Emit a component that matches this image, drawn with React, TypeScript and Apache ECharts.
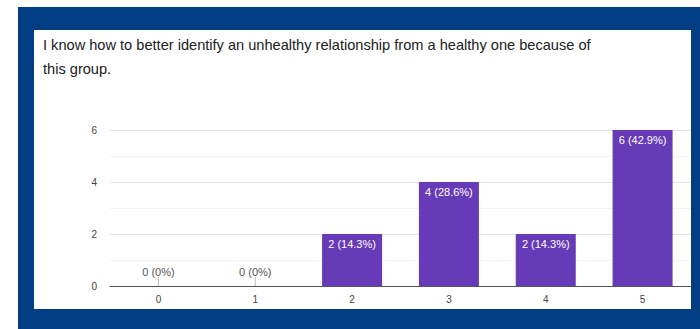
import React, { useEffect, useRef } from "react";
import * as echarts from "echarts";

// Survey question and answer tallies
const questionText =
  "I know how to better identify an unhealthy relationship from a healthy one because of\nthis group.";
const ratingCategories = ["0", "1", "2", "3", "4", "5"];
const responseCounts = [0, 0, 2, 4, 2, 6];
const yTicks = { min: 0, max: 6, interval: 2 };

const totalResponses = responseCounts.reduce((a, b) => a + b, 0);

const FONT = "'Liberation Sans', Arial, Helvetica, sans-serif";

function pctLabel(v: number): string {
  if (v === 0) return "0 (0%)";
  const p = Math.round((v / totalResponses) * 1000) / 10;
  return `${v} (${p}%)`;
}

export default function App() {
  const ref = useRef<HTMLDivElement>(null);

  useEffect(() => {
    if (!ref.current) return;
    const chart = echarts.init(ref.current, null, { renderer: "svg" });

    const barData = responseCounts.map((v) => ({
      value: v,
      label:
        v === 0
          ? { position: "top", distance: 9, color: "#555" }
          : { position: "insideTop", distance: 4, color: "#ffffff" },
    }));

    // Short stub marking categories with no responses
    const zeroMarks = responseCounts.map((v) => (v === 0 ? 0 : null));

    chart.setOption({
      animation: false,
      backgroundColor: "#ffffff",
      textStyle: { fontFamily: FONT },
      graphic: [
        {
          type: "rect",
          shape: { x: 18, y: 7, width: 682, height: 322 },
          style: { fill: "#023d83" },
          z: -10,
          silent: true,
        },
        {
          type: "rect",
          shape: { x: 34, y: 30, width: 657, height: 279 },
          style: { fill: "#ffffff" },
          z: -9,
          silent: true,
        },
      ],
      title: {
        text: questionText,
        left: 43,
        top: 33,
        padding: 0,
        textStyle: {
          fontFamily: FONT,
          fontSize: 14.6,
          fontWeight: "normal",
          color: "#202124",
          lineHeight: 24,
        },
      },
      grid: { left: 110, right: 9, top: 130, bottom: 43 },
      xAxis: {
        type: "category",
        data: ratingCategories,
        axisLine: { lineStyle: { color: "#555", width: 1 } },
        axisTick: { show: false },
        axisLabel: { color: "#444", fontSize: 10, margin: 8, fontFamily: FONT },
      },
      yAxis: {
        type: "value",
        min: yTicks.min,
        max: yTicks.max,
        interval: yTicks.interval,
        axisLine: { show: false },
        axisTick: { show: false },
        axisLabel: { color: "#444", fontSize: 10, margin: 13, fontFamily: FONT },
        splitLine: { lineStyle: { color: "#e6e6e6", width: 1 } },
        minorTick: { show: false, splitNumber: 2 },
        minorSplitLine: { show: true, lineStyle: { color: "#f3f3f3", width: 1 } },
      },
      series: [
        {
          type: "bar",
          data: barData,
          barWidth: 60,
          itemStyle: { color: "#673ab7" },
          label: {
            show: true,
            fontSize: 11,
            fontFamily: FONT,
            formatter: (p: any) => pctLabel(p.value),
          },
        },
        {
          type: "scatter",
          data: zeroMarks,
          symbol: "rect",
          symbolSize: [1, 9],
          symbolOffset: [0, -4.5],
          itemStyle: { color: "#aaa" },
          silent: true,
          z: 1,
        },
      ],
    });

    return () => chart.dispose();
  }, []);

  return (
    <div
      ref={ref}
      style={{ position: "fixed", left: 0, top: 0, width: 700, height: 329 }}
    />
  );
}
